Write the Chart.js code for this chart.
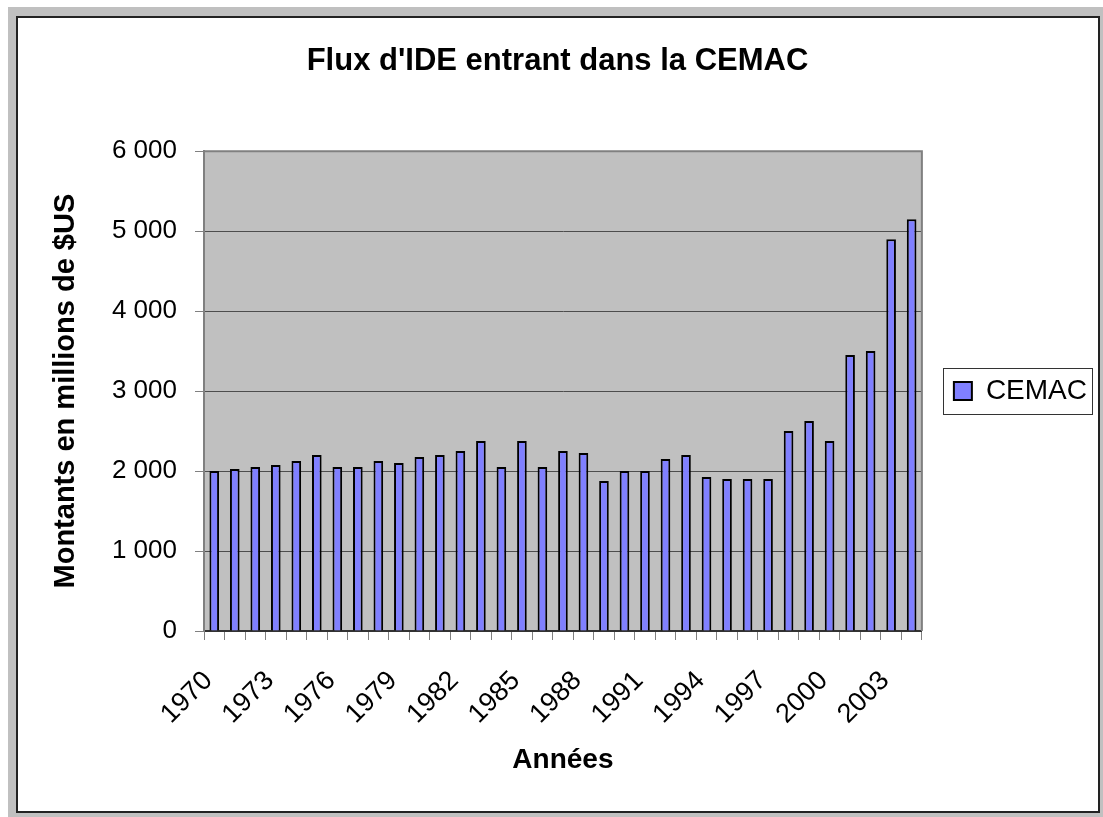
<!DOCTYPE html>
<html>
<head>
<meta charset="utf-8">
<script src="https://cdn.jsdelivr.net/npm/chart.js@4"></script>
<style>
  body { margin:0; background:#fff; }
  #fond { position:absolute; left:8px; top:7px; width:1095px; height:810px; background:#c0c0c0; }
  #cadre { position:absolute; left:16px; top:16px; width:1080px; height:793px; background:#fff; border:2px solid #222; }
  canvas { display:block; }
</style>
</head>
<body>
<div id="fond"></div>
<div id="cadre"><canvas id="graphe" width="1080" height="793"></canvas></div>
<script>
const annees = ["1970","1971","1972","1973","1974","1975","1976","1977","1978","1979",
  "1980","1981","1982","1983","1984","1985","1986","1987","1988","1989",
  "1990","1991","1992","1993","1994","1995","1996","1997","1998","1999",
  "2000","2001","2002","2003","2004"]
const cemac = [2000,2025,2050,2075,2125,2200,2050,2050,2125,2100,
  2175,2200,2250,2375,2050,2375,2050,2250,2225,1875,
  2000,2000,2150,2200,1925,1900,1900,1900,2500,2625,
  2375,3450,3500,4900,5150]
const graduations = [0,1000,2000,3000,4000,5000,6000]

Chart.defaults.font.family = '"Liberation Sans", Arial, sans-serif'
Chart.defaults.color = '#000'

// "6 000" style
const milliers = v => String(v).replace(/\B(?=(\d{3})+(?!\d))/g, ' ')

// fond gris de la zone de tracé + cadre de la légende
const fondExcel = {
  id: 'fondExcel',
  beforeDraw(chart) {
    const {ctx, chartArea: {left, top, width, height}} = chart
    ctx.save()
    ctx.fillStyle = '#c0c0c0'
    ctx.fillRect(left, top, width, height)
    ctx.restore()
  },
  afterDraw(chart) {
    const {ctx, chartArea: {left, top, right, bottom}} = chart
    ctx.save()
    ctx.strokeStyle = '#808080'
    ctx.lineWidth = 2
    ctx.beginPath()
    ctx.moveTo(left, top); ctx.lineTo(right, top); ctx.lineTo(right, bottom)
    ctx.stroke()
    const hb = chart.legend.legendHitBoxes[0]
    if (hb) {
      ctx.strokeStyle = '#333'
      ctx.lineWidth = 1
      ctx.strokeRect(Math.round(hb.left - 11) + .5, Math.round(hb.top + hb.height/2 - 23) + .5, Math.round(hb.width + 16), 46)
    }
    ctx.restore()
  }
}

new Chart(document.getElementById('graphe'), {
  type: 'bar',
  data: {
    labels: annees,
    datasets: [{
      label: 'CEMAC',
      data: cemac,
      backgroundColor: '#8080ff',
      borderColor: '#000',
      borderWidth: 2,
      barPercentage: 0.47,
      categoryPercentage: 1
    }]
  },
  options: {
    responsive: false,
    animation: false,
    layout: { padding: { left: 0, right: 1, top: 0, bottom: 0 } },
    plugins: {
      title: {
        display: true,
        text: "Flux d'IDE entrant dans la CEMAC",
        font: { size: 31, weight: 'bold' },
        color: '#000',
        padding: { top: 25, bottom: 71 }
      },
      legend: {
        position: 'right',
        fullSize: false,
        labels: { font: { size: 28 }, boxWidth: 18, boxHeight: 18, padding: 32, color: '#000' }
      },
      tooltip: { enabled: false }
    },
    scales: {
      x: {
        grid: { drawOnChartArea: false, offset: true, tickLength: 9, tickColor: '#808080' },
        border: { color: '#333', width: 2 },
        ticks: {
          autoSkip: false, minRotation: 45, maxRotation: 45,
          padding: 25, labelOffset: -6,
          font: { size: 27 }, color: '#000',
          callback: (v, i) => i % 3 === 0 ? annees[i] : ''
        },
        title: { display: true, text: 'Années', font: { size: 28, weight: 'bold' }, color: '#000', padding: { top: 0, bottom: 34 } },
        afterFit: s => { s.height = 180 }
      },
      y: {
        min: 0, max: 6000,
        afterBuildTicks: s => { s.ticks = graduations.map(v => ({ value: v })) },
        grid: { color: '#4d4d4d', tickLength: 9, tickColor: '#808080' },
        border: { color: '#808080', width: 2 },
        ticks: { font: { size: 26 }, color: '#000', padding: 18, callback: v => milliers(v) },
        title: { display: true, text: 'Montants en millions de $US', font: { size: 29, weight: 'bold' }, color: '#000', padding: { top: 31, bottom: 0 } },
        afterFit: s => { s.width = 186 }
      }
    }
  },
  plugins: [fondExcel]
})
</script>
</body>
</html>
